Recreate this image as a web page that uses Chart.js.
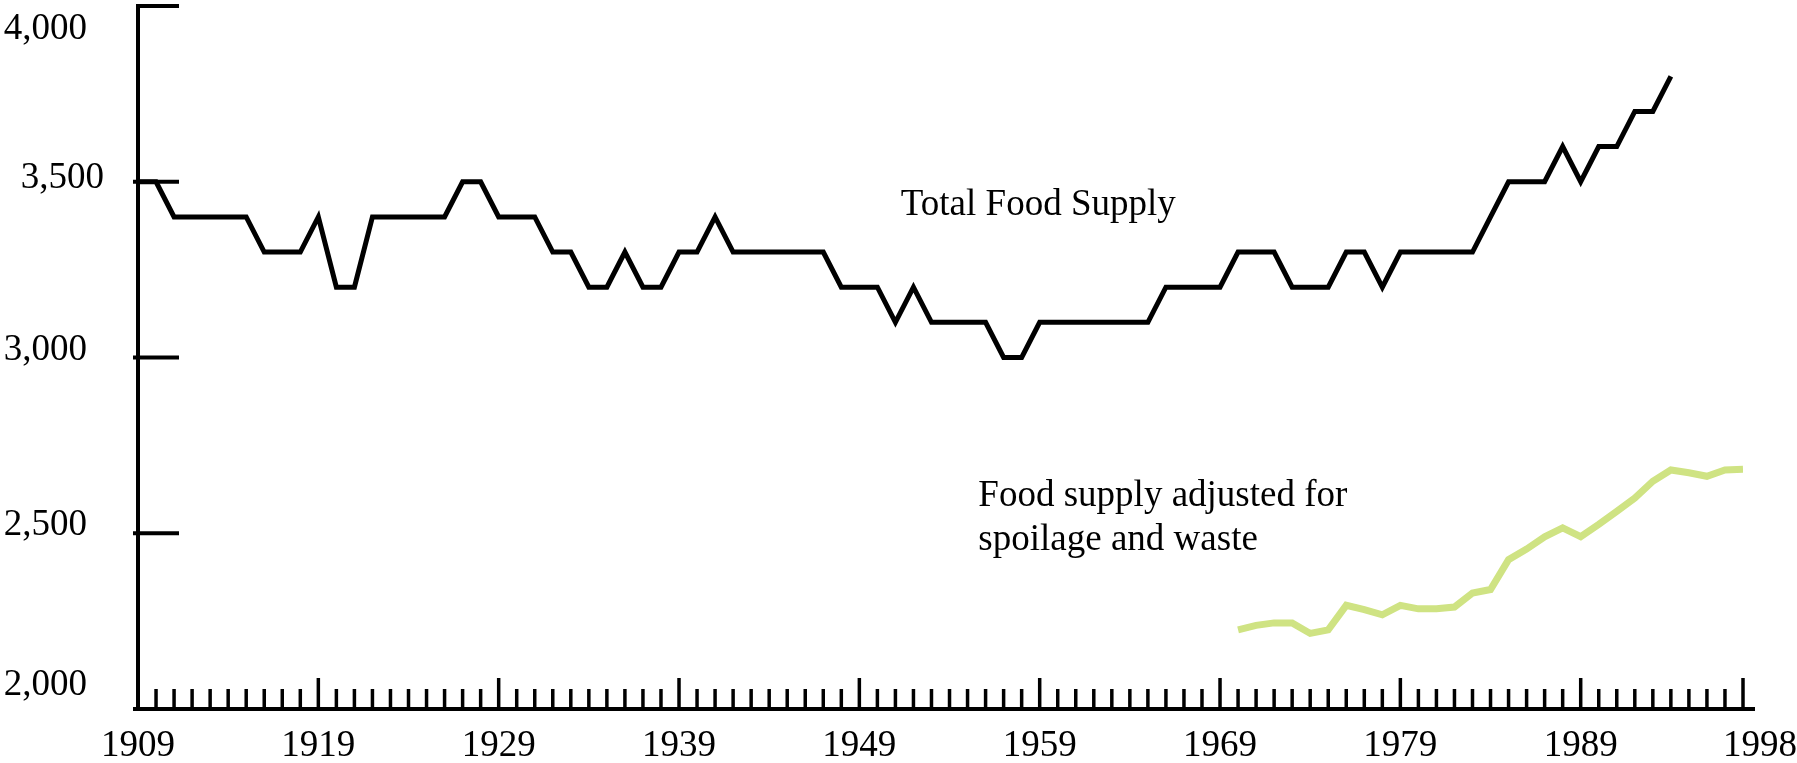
<!DOCTYPE html>
<html>
<head>
<meta charset="utf-8">
<title>Food supply</title>
<script src="https://cdn.jsdelivr.net/npm/chart.js@4.4.1/dist/chart.umd.min.js"></script>
<style>
  html, body { margin: 0; padding: 0; background: #fff; }
  #wrap { width: 1797px; height: 763px; position: relative; }
</style>
</head>
<body>
<div id="wrap"><canvas id="chart"></canvas></div>
<script>
// values
const totalYears = [
  1909, 1910, 1911, 1912, 1913, 1914, 1915, 1916, 1917, 1918,
  1919, 1920, 1921, 1922, 1923, 1924, 1925, 1926, 1927, 1928,
  1929, 1930, 1931, 1932, 1933, 1934, 1935, 1936, 1937, 1938,
  1939, 1940, 1941, 1942, 1943, 1944, 1945, 1946, 1947, 1948,
  1949, 1950, 1951, 1952, 1953, 1954, 1955, 1956, 1957, 1958,
  1959, 1960, 1961, 1962, 1963, 1964, 1965, 1966, 1967, 1968,
  1969, 1970, 1971, 1972, 1973, 1974, 1975, 1976, 1977, 1978,
  1979, 1980, 1981, 1982, 1983, 1984, 1985, 1986, 1987, 1988,
  1989, 1990, 1991, 1992, 1993, 1994
];
const totalSupply = [
  3500, 3500, 3400, 3400, 3400, 3400, 3400, 3300, 3300, 3300,
  3400, 3200, 3200, 3400, 3400, 3400, 3400, 3400, 3500, 3500,
  3400, 3400, 3400, 3300, 3300, 3200, 3200, 3300, 3200, 3200,
  3300, 3300, 3400, 3300, 3300, 3300, 3300, 3300, 3300, 3200,
  3200, 3200, 3100, 3200, 3100, 3100, 3100, 3100, 3000, 3000,
  3100, 3100, 3100, 3100, 3100, 3100, 3100, 3200, 3200, 3200,
  3200, 3300, 3300, 3300, 3200, 3200, 3200, 3300, 3300, 3200,
  3300, 3300, 3300, 3300, 3300, 3400, 3500, 3500, 3500, 3600,
  3500, 3600, 3600, 3700, 3700, 3800
];
const adjustedYears = [
  1970, 1971, 1972, 1973, 1974, 1975, 1976, 1977, 1978, 1979,
  1980, 1981, 1982, 1983, 1984, 1985, 1986, 1987, 1988, 1989,
  1990, 1991, 1992, 1993, 1994, 1995, 1996, 1997, 1998
];
const adjustedSupply = [
  2225, 2238, 2245, 2245, 2215, 2225, 2295, 2283, 2268, 2295,
  2285, 2285, 2290, 2330, 2340, 2425, 2455, 2490, 2515, 2490,
  2525, 2562, 2600, 2648, 2680, 2672, 2662, 2680, 2682
];
const xTickLabels = [1909, 1919, 1929, 1939, 1949, 1959, 1969, 1979, 1989, 1998];
const yTickLabels = [4000, 3500, 3000, 2500, 2000];

const serif = '"Liberation Serif", "Times New Roman", serif';

// axes are drawn by hand: ticks point inward like the original
const oldAxes = {
  id: 'oldAxes',
  afterDatasetsDraw(chart) {
    const ctx = chart.ctx;
    const xs = chart.scales.x, ys = chart.scales.y;
    const x0 = xs.getPixelForValue(xTickLabels[0]);
    const y0 = ys.getPixelForValue(2000);
    ctx.save();
    ctx.strokeStyle = '#000';
    ctx.fillStyle = '#000';
    ctx.lineCap = 'butt';
    ctx.lineWidth = 4;

    ctx.beginPath();
    ctx.moveTo(x0, ys.getPixelForValue(4000) - 2);
    ctx.lineTo(x0, y0);
    ctx.stroke();

    ctx.beginPath();
    ctx.moveTo(x0 - 5, y0);
    ctx.lineTo(xs.getPixelForValue(1998) + 12, y0);
    ctx.stroke();

    yTickLabels.forEach(v => {
      if (v === 2000) return;
      const py = ys.getPixelForValue(v);
      ctx.beginPath();
      ctx.moveTo(v === 4000 ? x0 - 2 : x0 - 5, py);
      ctx.lineTo(x0 + 41, py);
      ctx.stroke();
    });

    ctx.lineWidth = 3.5;
    for (let yr = 1910; yr <= 1998; yr++) {
      const px = xs.getPixelForValue(yr);
      const big = xTickLabels.includes(yr);
      ctx.beginPath();
      ctx.moveTo(px, y0);
      ctx.lineTo(px, y0 - (big ? 31 : 20));
      ctx.stroke();
    }

    ctx.font = '37px ' + serif;
    ctx.textBaseline = 'alphabetic';

    // y labels (the original sits them a bit off their ticks)
    const yShift = { 4000: [0, 33], 3500: [17, 6], 3000: [0, 2], 2500: [0, 2], 2000: [0, -14] };
    ctx.textAlign = 'right';
    yTickLabels.forEach(v => {
      const s = yShift[v];
      ctx.fillText(v.toLocaleString('en-US'), 87 + s[0], ys.getPixelForValue(v) + s[1]);
    });

    xTickLabels.forEach((yr, i) => {
      let px = xs.getPixelForValue(yr);
      ctx.textAlign = 'center';
      if (i === xTickLabels.length - 1) { ctx.textAlign = 'right'; px = chart.width; }
      ctx.fillText(String(yr), px, y0 + 47);
    });

    // series captions
    ctx.textAlign = 'left';
    ctx.fillText('Total Food Supply', xs.getPixelForValue(1951.3), ys.getPixelForValue(3406));
    ctx.fillText('Food supply adjusted for', xs.getPixelForValue(1955.6), ys.getPixelForValue(2578));
    ctx.fillText('spoilage and waste', xs.getPixelForValue(1955.6), ys.getPixelForValue(2452));
    ctx.restore();
  }
};

new Chart(document.getElementById('chart'), {
  type: 'line',
  data: {
    datasets: [
      {
        label: 'Total Food Supply',
        data: totalYears.map((yr, i) => ({ x: yr, y: totalSupply[i] })),
        borderColor: '#000000',
        borderWidth: 5,
        pointRadius: 0,
        tension: 0,
        fill: false
      },
      {
        label: 'Food supply adjusted for spoilage and waste',
        data: adjustedYears.map((yr, i) => ({ x: yr, y: adjustedSupply[i] })),
        borderColor: '#cfe383',
        borderWidth: 7,
        pointRadius: 0,
        tension: 0,
        fill: false
      }
    ]
  },
  options: {
    responsive: true,
    maintainAspectRatio: false,
    animation: false,
    layout: { padding: { left: 138, right: 54, top: 6, bottom: 54 } },
    plugins: { legend: { display: false }, tooltip: { enabled: false } },
    scales: {
      x: { type: 'linear', min: 1909, max: 1998, display: false },
      y: { type: 'linear', min: 2000, max: 4000, display: false }
    }
  },
  plugins: [oldAxes]
});
</script>
</body>
</html>
